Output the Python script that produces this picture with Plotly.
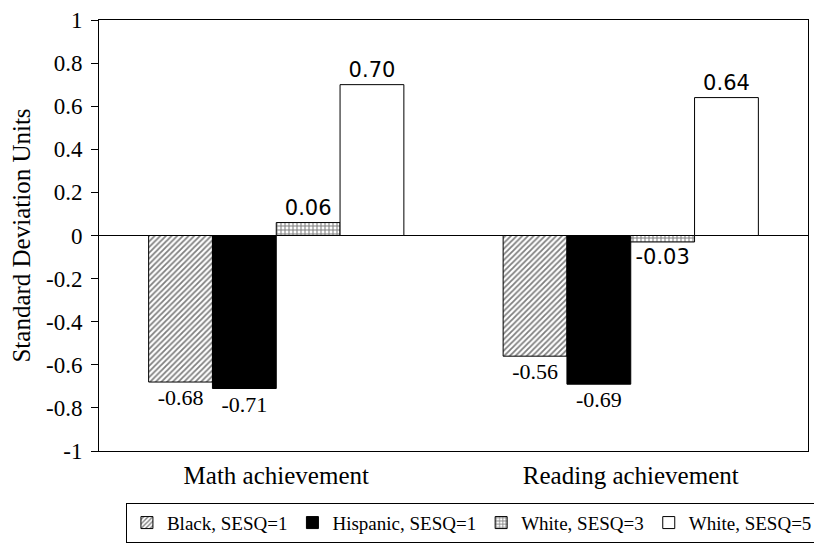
import plotly.graph_objects as go

categories = ["Math achievement", "Reading achievement"]
series_names = ["Black, SESQ=1", "Hispanic, SESQ=1", "White, SESQ=3", "White, SESQ=5"]
black_sesq1 = [-0.68, -0.56]
hispanic_sesq1 = [-0.71, -0.69]
white_sesq3 = [0.06, -0.03]
white_sesq5 = [0.70, 0.64]
label_fmt = "{:.2f}"
y_tickvals = [1, 0.8, 0.6, 0.4, 0.2, 0, -0.2, -0.4, -0.6, -0.8, -1]
y_ticktext = ["1", "0.8", "0.6", "0.4", "0.2", "0", "-0.2", "-0.4", "-0.6", "-0.8", "-1"]

serif = "Liberation Serif, Times New Roman, serif"
sans = "DejaVu Sans, Verdana, sans-serif"

styles = [
    dict(color="white", pattern=dict(shape="/", fgcolor="black", bgcolor="white", size=4, solidity=0.45), font=serif, size=22),
    dict(color="black", pattern=None, font=serif, size=22),
    dict(color="white", pattern=dict(shape="+", fgcolor="black", bgcolor="white", size=4, solidity=0.45), font=sans, size=21),
    dict(color="white", pattern=None, font=sans, size=21),
]
values = [black_sesq1, hispanic_sesq1, white_sesq3, white_sesq5]

fig = go.Figure()
for name, vals, st in zip(series_names, values, styles):
    marker = dict(color=st["color"], line=dict(color="black", width=1))
    if st["pattern"]:
        marker["pattern"] = st["pattern"]
    fig.add_trace(go.Bar(
        name=name, x=categories, y=vals,
        text=[label_fmt.format(v) for v in vals],
        textposition="outside", cliponaxis=False,
        textfont=dict(family=st["font"], size=st["size"], color="black"),
        marker=marker,
    ))

fig.update_layout(
    barmode="group", bargap=0.28, bargroupgap=0,
    width=822, height=547,
    margin=dict(l=91, r=12, t=12, b=95),
    paper_bgcolor="white", plot_bgcolor="white",
    font=dict(family=serif, size=22, color="black"),
    showlegend=True,
    legend=dict(orientation="h", x=1.014, xanchor="right", y=-0.12, yanchor="top",
                bordercolor="black", borderwidth=1, bgcolor="white",
                font=dict(family=serif, size=19), itemwidth=30, tracegroupgap=0),
    xaxis=dict(showline=True, linecolor="black", linewidth=1, mirror=True, automargin=False,
               ticks="", tickfont=dict(size=25), showgrid=False, ticklabelstandoff=2),
    yaxis=dict(range=[-1, 1], tickvals=y_tickvals, ticktext=y_ticktext, automargin=False,
               showline=True, linecolor="black", linewidth=1, mirror=True,
               ticks="outside", ticklen=7, tickcolor="black", showgrid=False,
               zeroline=True, zerolinecolor="black", zerolinewidth=1,
               tickfont=dict(size=23), ticklabelstandoff=4,
               title=dict(text="Standard Deviation Units", font=dict(size=25), standoff=10)),
)

fig.write_html("out.html")
